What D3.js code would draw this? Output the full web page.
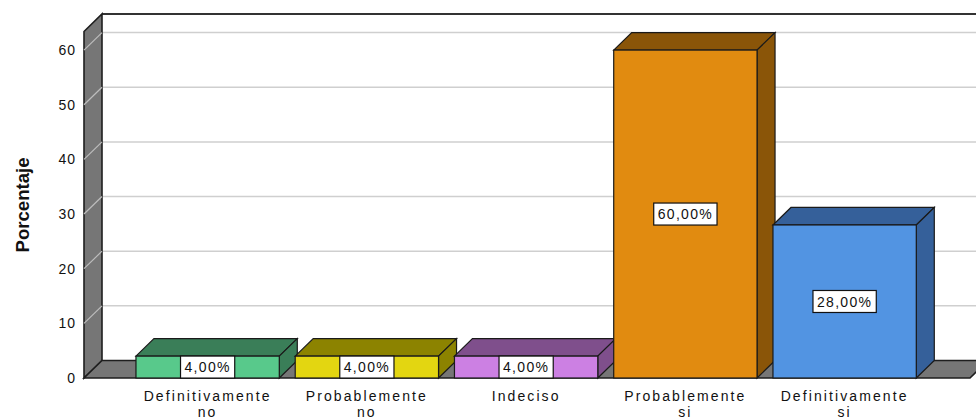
<!DOCTYPE html>
<html lang="es">
<head>
<meta charset="UTF-8">
<script src="https://cdn.jsdelivr.net/npm/d3@7"></script>
<title>Porcentaje</title>
<style>
    body { margin: 0; background: #fff; }
    text { font-family: "Liberation Sans", Arial, sans-serif; fill: #111; }
</style>
</head>
<body>
<div id="chart"></div>
<script>
    // data
    const categories = [["Definitivamente", "no"], ["Probablemente", "no"], ["Indeciso"], ["Probablemente", "si"], ["Definitivamente", "si"]];
    const values = [4, 4, 4, 60, 28];
    const valueLabels = ["4,00%", "4,00%", "4,00%", "60,00%", "28,00%"];
    const yTicks = [0, 10, 20, 30, 40, 50, 60];
    const frontColors = ["#58c98b", "#e3d611", "#cc80e3", "#e18b10", "#5294e2"];
    const darkColors = ["#3a7e58", "#8c8300", "#7f4f8c", "#8a5508", "#35609a"];

    const width = 976, height = 419;
    const dx = 18, dy = 17.5;        // depth offset of the 3D look
    const left = 84, right = 970;    // front edge of the floor

    const svg = d3.select("#chart").append("svg")
        .attr("width", width)
        .attr("height", height);

    const y = d3.scaleLinear().domain([0, 63.4]).range([378, 31.5]);
    const x = d3.scaleBand()
        .domain(d3.range(categories.length))
        .range([128, 924.25])
        .paddingInner(0.1)
        .paddingOuter(0.05);

    const line = d3.line();

    // back wall
    svg.append("rect")
        .attr("x", left + dx).attr("y", y(63.4) - dy)
        .attr("width", right + dx - left).attr("height", y(0) - y(63.4))
        .attr("fill", "#fff");

    // grid lines on back wall
    const grid = svg.append("g");
    yTicks.filter(d => d > 0).forEach(v => {
        grid.append("path")
            .attr("d", line([[left + dx, y(v) - dy], [width, y(v) - dy]]))
            .attr("fill", "none")
            .attr("stroke", "#cfcfcf")
            .attr("stroke-width", 1.5);
    });

    // top border of back wall
    svg.append("line")
        .attr("x1", left + dx).attr("x2", width)
        .attr("y1", y(63.4) - dy).attr("y2", y(63.4) - dy)
        .attr("stroke", "#333").attr("stroke-width", 2);

    // left wall
    svg.append("path")
        .attr("d", line([[left, y(63.4)], [left + dx, y(63.4) - dy], [left + dx, y(0) - dy], [left, y(0)]]) + "Z")
        .attr("fill", "#767676")
        .attr("stroke", "#1e1e1e").attr("stroke-width", 1.6);

    // gridlines across the left wall
    yTicks.filter(d => d > 0).forEach(v => {
        svg.append("line")
            .attr("x1", left).attr("y1", y(v))
            .attr("x2", left + dx).attr("y2", y(v) - dy)
            .attr("stroke", "#bdbdbd").attr("stroke-width", 1.2);
    });

    // floor
    svg.append("path")
        .attr("d", line([[left, y(0)], [left + dx, y(0) - dy], [right + dx, y(0) - dy], [right, y(0)]]) + "Z")
        .attr("fill", "#767676")
        .attr("stroke", "#1e1e1e").attr("stroke-width", 1.6);

    // y tick labels
    svg.append("g").selectAll("text")
        .data(yTicks)
        .join("text")
        .attr("x", 76)
        .attr("y", d => y(d))
        .attr("dy", "0.35em")
        .attr("text-anchor", "end")
        .style("font-size", "14px")
        .style("letter-spacing", "1px")
        .text(d => d);

    // y axis title
    svg.append("text")
        .attr("transform", "translate(29,205) rotate(-90)")
        .attr("text-anchor", "middle")
        .attr("textLength", 95)
        .attr("lengthAdjust", "spacingAndGlyphs")
        .style("font-size", "19px")
        .style("font-weight", "bold")
        .text("Porcentaje");

    // bars
    const bars = svg.append("g").selectAll("g")
        .data(values)
        .join("g");

    bars.each(function (v, i) {
        const g = d3.select(this);
        const x0 = x(i), w = x.bandwidth();
        const top = y(v), base = y(0);
        g.append("path")
            .attr("d", line([[x0, top], [x0 + dx, top - dy], [x0 + w + dx, top - dy], [x0 + w, top]]) + "Z")
            .attr("fill", darkColors[i]).attr("stroke", "#1a1a1a").attr("stroke-width", 1.2);
        g.append("path")
            .attr("d", line([[x0 + w, top], [x0 + w + dx, top - dy], [x0 + w + dx, base - dy], [x0 + w, base]]) + "Z")
            .attr("fill", darkColors[i]).attr("stroke", "#1a1a1a").attr("stroke-width", 1.2);
        g.append("rect")
            .attr("x", x0).attr("y", top)
            .attr("width", w).attr("height", base - top)
            .attr("fill", frontColors[i]).attr("stroke", "#1a1a1a").attr("stroke-width", 1.2);

        // value label box
        const cy = (top + base) / 2;
        const t = g.append("text")
            .attr("x", x0 + w / 2)
            .attr("y", cy)
            .attr("dy", "0.36em")
            .attr("text-anchor", "middle")
            .style("font-size", "14px")
            .style("letter-spacing", "1.3px")
            .text(valueLabels[i]);
        const tw = t.node().getComputedTextLength();
        g.insert("rect", "text")
            .attr("x", x0 + w / 2 - tw / 2 - 4)
            .attr("y", cy - 11)
            .attr("width", tw + 8)
            .attr("height", 22)
            .attr("fill", "#fff")
            .attr("stroke", "#111").attr("stroke-width", 1.2);
    });

    // category labels
    const cat = svg.append("g").selectAll("text")
        .data(categories)
        .join("text")
        .attr("x", (d, i) => x(i) + x.bandwidth() / 2)
        .attr("y", 401)
        .attr("text-anchor", "middle")
        .style("font-size", "14px")
        .style("letter-spacing", "2.1px");

    cat.selectAll("tspan")
        .data(d => d)
        .join("tspan")
        .attr("x", function () { return d3.select(this.parentNode).attr("x"); })
        .attr("dy", (d, j) => j === 0 ? 0 : 16)
        .text(d => d);
</script>
</body>
</html>
